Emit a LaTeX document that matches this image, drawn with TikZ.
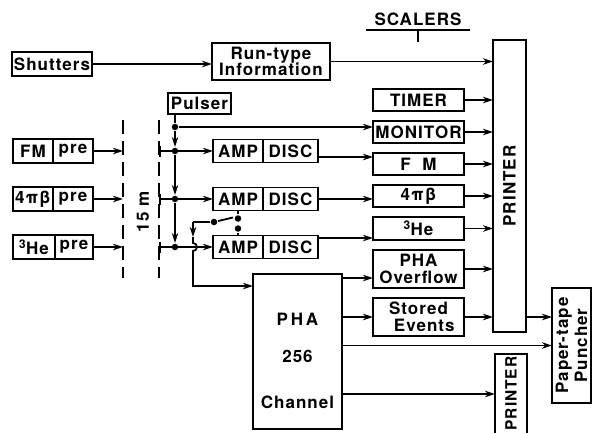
\documentclass[tikz,border=0pt]{standalone}
\usepackage{fontspec}
\usepackage{graphicx}
\setmainfont{TeX Gyre Heros}[LetterSpace=6]
\usetikzlibrary{arrows.meta, positioning, calc}

\begin{document}
\begin{tikzpicture}[x=1pt, y=-1pt, >={Stealth[length=10pt, width=6.5pt]}, line width=1.8pt,
            font=\fontsize{17}{16.5}\selectfont\bfseries,
            box/.style={draw, rectangle, inner sep=0pt, outer sep=0pt, minimum height=22pt},
            scaler/.style={box, minimum width=91pt},
            dot/.style={circle, fill, inner sep=0pt, minimum size=6.5pt},
            cable/.style={dash pattern=on 14pt off 7pt}]

            \useasboundingbox (0,0) rectangle (592,432);

            % ===== detectors =====
            \node[box, minimum width=80pt, minimum height=24pt] (shutters) at (52,64) {Shutters};
            \node[box, minimum width=40pt, minimum height=24pt] (fmdet) at (33,151) {FM};
            \node[box, minimum width=40pt, minimum height=24pt, right=0pt of fmdet] (fmpre) {pre};
            \node[box, minimum width=40pt, minimum height=24pt] (pidet) at (33,199) {4πβ};
            \node[box, minimum width=40pt, minimum height=24pt, right=0pt of pidet] (pipre) {pre};
            \node[box, minimum width=42pt, minimum height=24pt] (hedet) at (34,247) {\textsuperscript{3}He};
            \node[box, minimum width=38pt, minimum height=24pt, right=0pt of hedet] (hepre) {pre};

            % ===== 15 m cable =====
            \coordinate (cableL) at (123,120);
            \coordinate (cableR) at (159,120);
            \draw[cable] (cableL) -- ++(0,158);
            \draw[cable] (cableR) -- ++(0,158);
            \node[rotate=90] (length) at (143,212) {15 m};

            % ===== electronics =====
            \node[box, minimum width=118pt, minimum height=37pt, align=center] (runtype) at (271,61.5) {Run-type\\Information};
            \node[box, minimum width=63pt, minimum height=21pt] (pulser) at (199.5,103.5) {Pulser};
            \node[box, minimum width=50pt, minimum height=23pt] (amp1) at (238,151) {AMP};
            \node[box, minimum width=55pt, minimum height=23pt, right=0pt of amp1] (disc1) {DISC};
            \node[box, minimum width=50pt, minimum height=23pt] (amp2) at (238,199) {AMP};
            \node[box, minimum width=55pt, minimum height=23pt, right=0pt of amp2] (disc2) {DISC};
            \node[box, minimum width=50pt, minimum height=23pt] (amp3) at (238,247) {AMP};
            \node[box, minimum width=55pt, minimum height=23pt, right=0pt of amp3] (disc3) {DISC};
            \node[box, minimum width=89pt, minimum height=155pt] (pha) at (297.5,351.5) {};
            \node (phaA) at ([yshift=32pt]pha.center) {P\,H\,A};
            \node (phaB) at ([yshift=-5pt]pha.center) {256};
            \node (phaC) at ([yshift=-51pt]pha.center) {Channel};

            % ===== scalers =====
            \node (scalers) at (418,19) {SCALERS};
            \draw ([xshift=-4pt]scalers.south west) -- ([xshift=4pt]scalers.south east);
            \draw (scalers.south) -- ++(0,12);
            \node[scaler] (timer) at (418.5,100) {TIMER};
            \node[scaler, below=10pt of timer] (monitor) {MONITOR};
            \node[scaler, below=10pt of monitor] (fmsc) {F\ \ M};
            \node[scaler, below=10pt of fmsc] (pisc) {4πβ};
            \node[scaler, below=10pt of pisc, minimum height=23pt] (hesc) {\textsuperscript{3}He};
            \node[scaler, below=10pt of hesc, minimum height=38pt, align=center] (ovf) {PHA\\Overflow};
            \node[scaler, below=10pt of ovf, minimum height=38pt, align=center] (stored) {Stored\\\ \ Events};

            % ===== output =====
            \node[box, minimum width=33pt, minimum height=292pt] (printer) at (509.5,186) {\rotatebox{90}{PRINTER}};
            \node[box, minimum width=32pt, minimum height=80pt] (printer2) at (511,394) {};
            \node[rotate=90, font=\fontsize{15.5}{16}\selectfont\bfseries] (printer2name) at (511,393.5) {PRINTER};
            \node[box, minimum width=39pt, minimum height=115pt] (puncher) at (571.5,345.5) {\rotatebox{90}{\shortstack{Paper-tape\\Puncher}}};

            % ===== signal lines =====
            \draw[->] (shutters.east) -- (shutters.east -| runtype.west);
            \draw[->] (runtype.east) -- (runtype.east -| printer.west);
            \draw[->] (fmpre.east) -- (fmpre.east -| cableL);
            \draw[->] (pipre.east) -- (pipre.east -| cableL);
            \draw[->] (hepre.east) -- (hepre.east -| cableL);
            \draw[{Bar[width=11pt]}->] (amp1.west -| cableR) -- (amp1.west);
            \draw[{Bar[width=11pt]}->] (amp2.west -| cableR) -- (amp2.west);
            \draw[{Bar[width=11pt]}->] (amp3.west -| cableR) -- (amp3.west);

            % ===== pulser bus =====
            \node[dot] (tap) at (175,127) {};
            \node[dot] (j1) at (tap |- amp1.west) {};
            \node[dot] (j2) at (tap |- amp2.west) {};
            \node[dot] (j3) at (tap |- amp3.west) {};
            \draw (pulser.south -| tap) -- (tap);
            \draw[->] (tap) -- (j1);
            \draw[->] (j1) -- (j2);
            \draw[->] (j2) -- (j3);
            \draw[->] (tap) -- (tap -| monitor.west);

            % ===== discriminators -> scalers =====
            \draw[->] ([yshift=-6pt]disc1.east) -- ([yshift=-6pt]disc1.east -| fmsc.west);
            \draw[->] (disc2.east) -- (disc2.east -| pisc.west);
            \draw[->] ([yshift=9pt]disc3.east) -- ([yshift=9pt]disc3.east -| hesc.west);

            % ===== gate switch to PHA =====
            \node[dot] (contactA) at ([yshift=-8pt]amp2.south) {};
            \node[dot] (contactB) at ([yshift=7pt]amp3.north) {};
            \node[dot] (pivot) at (214,222) {};
            \coordinate (bladetip) at (233,217.5);
            \coordinate (bend) at (193,222);
            \coordinate (midarrow) at (193,237);
            \coordinate (bendlow) at (193,286);
            \draw (amp2.south) -- (contactA);
            \draw (contactB) -- (amp3.north);
            \draw (pivot) -- (bladetip);
            \draw (pivot) -- (bend);
            \draw[->] (bend) -- (midarrow);
            \draw[->] (midarrow) -- ([yshift=4pt]bendlow |- amp3.west) arc[start angle=90, end angle=-90, radius=4pt]
                -- (bendlow) -- (bendlow -| pha.west);

            % ===== scalers -> printer =====
            \foreach \sc in {timer, monitor, fmsc, pisc, hesc, ovf, stored}
                \draw[->] (\sc.east) -- (\sc.east -| printer.west);

            % ===== PHA outputs =====
            \draw[->] ([yshift=-9pt]ovf.west -| pha.east) -- ([yshift=-9pt]ovf.west);
            \draw[->] (stored.west -| pha.east) -- (stored.west);
            \draw[->] (pha.east |- puncher.west) -- (puncher.west);
            \draw[->] (pha.east |- printer2.west) -- (printer2.west);
            \draw[->] (printer.east |- stored.east) -- (puncher.west |- stored.east);
        \end{tikzpicture}
\end{document}
